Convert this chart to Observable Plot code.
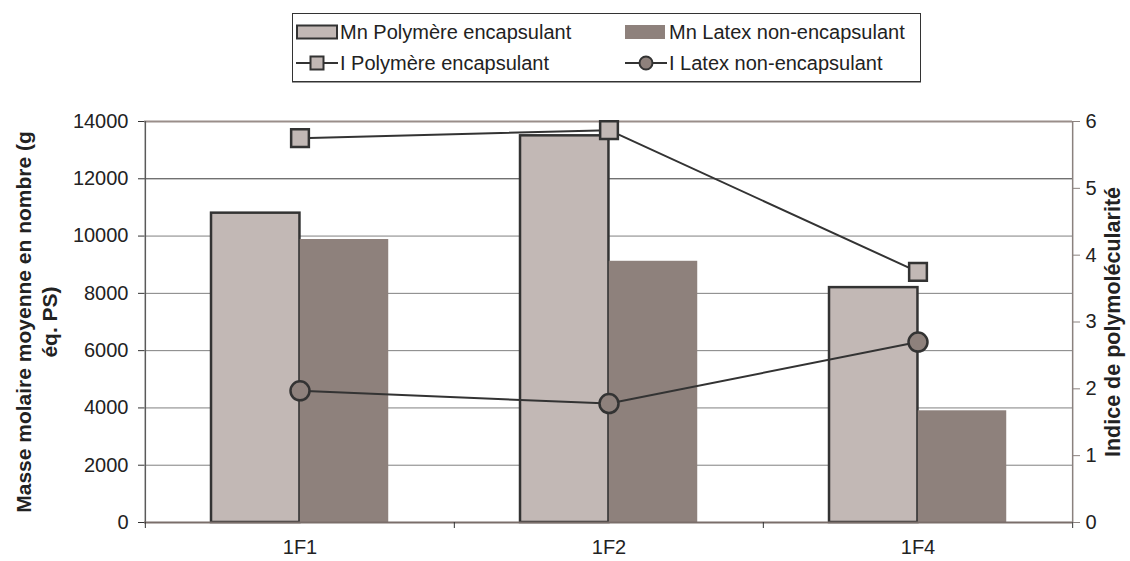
<!DOCTYPE html>
<html>
<head>
<meta charset="utf-8">
<script src="https://cdn.jsdelivr.net/npm/d3@7"></script>
<script src="https://cdn.jsdelivr.net/npm/@observablehq/plot@0.6"></script>
<style>
  html, body { margin: 0; padding: 0; background: #fff; }
  body { width: 1130px; height: 561px; overflow: hidden; font-family: "Liberation Sans", Arial, sans-serif; color: #222; }
  #legend { position: relative; width: 1130px; height: 95px; }
  #legend .box { position: absolute; left: 292px; top: 13px; width: 627px; height: 67px; border: 1px solid #333; box-shadow: 0 1px 0 #999; }
  #legend .item { position: absolute; height: 24px; display: flex; align-items: center; font-size: 20px; white-space: nowrap; }
  #legend svg { display: block; margin-right: 2px; }
</style>
</head>
<body>
<div id="legend"></div>
<div id="chart"></div>
<script>
// ---- data ----
const categories = ["1F1", "1F2", "1F4"];
const mnPolymere = [10800, 13500, 8200];
const mnLatex = [9880, 9120, 3900];
const iPolymere = [5.75, 5.87, 3.75];
const iLatex = [1.97, 1.78, 2.70];
const leftTicks = [0, 2000, 4000, 6000, 8000, 10000, 12000, 14000];
const rightTicks = [0, 1, 2, 3, 4, 5, 6];
const seriesNames = ["Mn Polymère encapsulant", "Mn Latex non-encapsulant", "I Polymère encapsulant", "I Latex non-encapsulant"];
const yTitleLeft = "Masse molaire moyenne en nombre (g\néq. PS)";
const yTitleRight = "Indice de polymolécularité";

// ---- styling ----
const colPoly = "#c2b8b5";
const colLatex = "#8e817c";
const dark = "#333333";
const font = "Liberation Sans, Arial, sans-serif";

const W = 1130, H = 466;
const mL = 144, mR = 58, mT = 26, mB = 39;
const bw = (W - mL - mR) / categories.length;
const gapFrac = 0.2134, barFrac = 0.287;
const yMax = leftTicks[leftTicks.length - 1];
const k = yMax / rightTicks[rightTicks.length - 1];

const bars = categories.map((c, i) => ({c, poly: mnPolymere[i], latex: mnLatex[i]}));
const lines = categories.map((c, i) => ({c, ip: iPolymere[i], il: iLatex[i]}));

const inPolyL = gapFrac * bw, inPolyR = bw - (gapFrac + barFrac) * bw;
const inLatL = (gapFrac + barFrac) * bw, inLatR = bw - (gapFrac + 2 * barFrac) * bw;

const grid = leftTicks.filter(v => v > 0 && v < yMax);

const chart = Plot.plot({
  width: W, height: H,
  marginLeft: mL, marginRight: mR, marginTop: mT, marginBottom: mB,
  style: {fontFamily: font, fontSize: "20px", color: "#222", background: "#fff"},
  x: {type: "band", domain: categories, padding: 0},
  y: {domain: [0, yMax]},
  marks: [
    Plot.ruleY(grid, {stroke: d => d === 12000 ? "#3a3a3a" : "#808080", strokeWidth: 1}),
    Plot.barY(bars, {x: "c", y: "poly", fill: colPoly, stroke: dark, strokeWidth: 2.5, insetLeft: inPolyL, insetRight: inPolyR}),
    Plot.barY(bars, {x: "c", y: "latex", fill: colLatex, insetLeft: inLatL, insetRight: inLatR}),
    // frame lines
    Plot.ruleY([yMax], {stroke: "#9a8e8a", strokeWidth: 2}),
    Plot.ruleX([categories[0]], {dx: -bw / 2, y1: 0, y2: yMax, stroke: "#5a5a5a", strokeWidth: 1.5}),
    Plot.ruleX([categories[categories.length - 1]], {dx: bw / 2, y1: 0, y2: yMax, stroke: "#8a817e", strokeWidth: 1.5}),
    Plot.ruleY([0], {stroke: "#7a6e6a", strokeWidth: 2}),
    // x ticks at band boundaries
    Plot.ruleX(categories, {dx: -bw / 2, y1: 0, y2: 0, insetBottom: -6, stroke: dark}),
    Plot.ruleX([categories[categories.length - 1]], {dx: bw / 2, y1: 0, y2: 0, insetBottom: -6, stroke: dark}),
    // lines (index on right axis)
    Plot.line(lines, {x: "c", y: d => d.ip * k, stroke: dark, strokeWidth: 2}),
    Plot.line(lines, {x: "c", y: d => d.il * k, stroke: dark, strokeWidth: 2}),
    Plot.dot(lines, {x: "c", y: d => d.ip * k, symbol: "square", r: 10, fill: colPoly, stroke: dark, strokeWidth: 2.5}),
    Plot.dot(lines, {x: "c", y: d => d.il * k, symbol: "circle", r: 9.5, fill: colLatex, stroke: dark, strokeWidth: 2.5}),
    // axes
    Plot.axisY(leftTicks, {anchor: "left", tickSize: 6, tickPadding: 10, tickFormat: d3.format("d"), label: null, stroke: dark, fill: "#222", fontSize: 20}),
    Plot.axisY(rightTicks.map(v => v * k), {anchor: "right", tickSize: 7, tickPadding: 6, tickFormat: d => String(Math.round(d / k)), label: null, stroke: "#8a817e", fill: "#222", fontSize: 20}),
    Plot.axisX({tickSize: 0, tickPadding: 17, label: null, fill: "#222", fontSize: 20}),
    // axis titles
    Plot.text([yTitleLeft], {frameAnchor: "left", dx: -109, rotate: -90, textAnchor: "middle", lineAnchor: "middle", text: d => d, fontWeight: "bold", fontSize: 21, lineHeight: 1.25, fill: "#222"}),
    Plot.text([yTitleRight], {frameAnchor: "right", dx: 41, rotate: -90, textAnchor: "middle", lineAnchor: "middle", text: d => d, fontWeight: "bold", fontSize: 21.5, fill: "#222"})
  ]
});
document.getElementById("chart").appendChild(chart);

// ---- legend ----
const legend = document.getElementById("legend");
const box = document.createElement("div");
box.className = "box";
legend.appendChild(box);
const sw = (kind) => {
  const ns = "http://www.w3.org/2000/svg";
  const s = document.createElementNS(ns, "svg");
  s.setAttribute("width", 42); s.setAttribute("height", 20);
  if (kind === 0) s.innerHTML = `<rect x="1" y="3.5" width="40" height="13" fill="${colPoly}" stroke="${dark}" stroke-width="2"/>`;
  if (kind === 1) s.innerHTML = `<rect x="0" y="3" width="40" height="14" fill="${colLatex}"/>`;
  if (kind === 2) s.innerHTML = `<line x1="0" x2="42" y1="10" y2="10" stroke="${dark}" stroke-width="2"/><rect x="14.5" y="3.5" width="13" height="13" fill="${colPoly}" stroke="${dark}" stroke-width="2"/>`;
  if (kind === 3) s.innerHTML = `<line x1="0" x2="42" y1="10" y2="10" stroke="${dark}" stroke-width="2"/><circle cx="21" cy="10" r="6.5" fill="${colLatex}" stroke="${dark}" stroke-width="2"/>`;
  return s;
};
const pos = [[296, 20], [625, 20], [296, 51], [625, 51]];
seriesNames.forEach((name, i) => {
  const it = document.createElement("div");
  it.className = "item";
  it.style.left = pos[i][0] + "px";
  it.style.top = pos[i][1] + "px";
  it.appendChild(sw(i));
  const t = document.createElement("span");
  t.textContent = name;
  it.appendChild(t);
  legend.appendChild(it);
});
</script>
</body>
</html>
